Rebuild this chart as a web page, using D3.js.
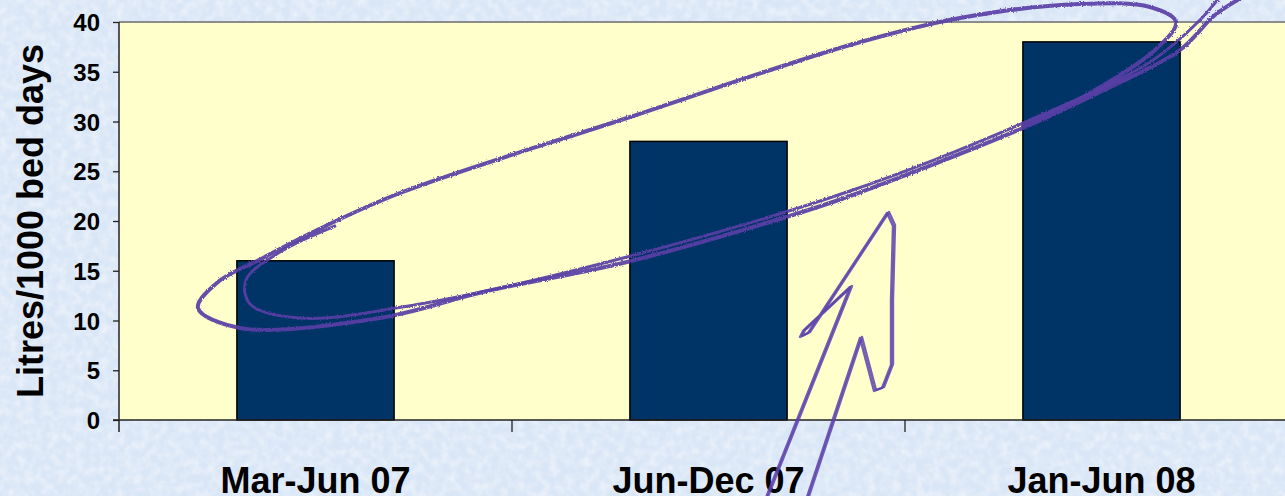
<!DOCTYPE html>
<html>
<head>
<meta charset="utf-8">
<script src="https://cdn.jsdelivr.net/npm/d3@7"></script>
<style>
  html, body { margin: 0; padding: 0; overflow: hidden; background: #dbe7f6; }
  svg { display: block; font-family: "Liberation Sans", Arial, sans-serif; }
</style>
</head>
<body>
<svg id="chart" width="1285" height="496"></svg>
<script>
// chart data
const categories = ["Mar-Jun 07", "Jun-Dec 07", "Jan-Jun 08"];
const litres = [16, 28, 38];
const yTicks = [0, 5, 10, 15, 20, 25, 30, 35, 40];
const yTitle = "Litres/1000 bed days";

// hand drawn annotation (screen space)
const loopMain = [[1248, -6], [1215, 15], [1180, 50], [1100, 92], [1023, 128], [850, 196], [783, 218],
  [627, 262], [483, 292], [380, 318], [240, 328], [198, 308], [218, 282], [263, 258], [313, 232],
  [400, 193], [627, 118], [850, 45], [960, 18], [1080, 4], [1150, 7], [1176, 22], [1155, 50],
  [1083, 97], [1023, 126]];
const loopInner = [[335, 226], [280, 252], [246, 280], [250, 304], [300, 318], [420, 304],
  [627, 257], [850, 191], [1023, 123], [1150, 62], [1200, 20], [1222, -6]];
const arrowPts = [[765, 500], [850, 287], [803, 331], [800, 337], [808, 333], [887, 213], [893, 226],
  [891, 300], [891, 365], [882, 388], [874, 391], [860, 338], [806, 500]];

const svg = d3.select("#chart");
const width = +svg.attr("width");
const height = +svg.attr("height");

const plot = { left: 119, top: 22, bottom: 420, step: 393 };
const plotRight = plot.left + plot.step * categories.length;

//background texture
const defs = svg.append("defs");
const tex = defs.append("filter").attr("id", "tex")
  .attr("x", 0).attr("y", 0).attr("width", "100%").attr("height", "100%");
tex.append("feTurbulence").attr("type", "fractalNoise")
  .attr("baseFrequency", 0.12).attr("numOctaves", 2).attr("seed", 3);
tex.append("feColorMatrix").attr("type", "matrix")
  .attr("values", "0 0 0 0 1  0 0 0 0 1  0 0 0 0 1  0 0 0 1.6 -0.55");

const rough = defs.append("filter").attr("id", "rough");
rough.append("feTurbulence").attr("type", "fractalNoise")
  .attr("baseFrequency", 0.8).attr("numOctaves", 1).attr("result", "n");
rough.append("feDisplacementMap").attr("in", "SourceGraphic").attr("in2", "n")
  .attr("scale", 3);

const soft = defs.append("filter").attr("id", "soft");
soft.append("feGaussianBlur").attr("stdDeviation", 0.6);

svg.append("rect").attr("width", width).attr("height", height).attr("fill", "#d9e6f6");
svg.append("rect").attr("width", width).attr("height", height)
  .attr("filter", "url(#tex)").attr("opacity", 0.55);

//scales
const x = d3.scaleBand().domain(categories)
  .range([plot.left, plotRight]).paddingInner(0.6).paddingOuter(0.3);
const xEdge = d3.scaleBand().domain(categories).range([plot.left, plotRight]);
const y = d3.scaleLinear().domain([0, 40]).range([plot.bottom, plot.top]);

//plot area
svg.append("rect")
  .attr("x", plot.left).attr("y", plot.top)
  .attr("width", plotRight - plot.left).attr("height", plot.bottom - plot.top)
  .attr("fill", "#ffffcc");
svg.append("line")
  .attr("x1", plot.left).attr("x2", plotRight)
  .attr("y1", plot.top).attr("y2", plot.top)
  .attr("stroke", "#8c8c8c").attr("stroke-width", 2);

//bars
svg.append("g").selectAll("rect")
  .data(litres)
  .enter()
  .append("rect")
  .attr("x", (d, i) => x(categories[i]))
  .attr("y", d => y(d))
  .attr("width", x.bandwidth())
  .attr("height", d => y(0) - y(d))
  .attr("fill", "#003366")
  .attr("stroke", "#000")
  .attr("stroke-width", 1.5);

//y axis
const yAxis = svg.append("g")
  .attr("transform", `translate(${plot.left},0)`)
  .call(d3.axisLeft(y).tickValues(yTicks).tickSize(6).tickPadding(13));
yAxis.select(".domain").remove();
yAxis.selectAll(".tick line").attr("stroke", "#222").attr("stroke-width", 1.3);
yAxis.selectAll(".tick text")
  .attr("font-size", 24).attr("font-weight", "bold").attr("fill", "#000")
  .attr("font-family", "Liberation Sans, Arial, sans-serif")
  .attr("dy", "0.36em");
svg.append("line")
  .attr("x1", plot.left).attr("x2", plot.left)
  .attr("y1", plot.top).attr("y2", plot.bottom + 12)
  .attr("stroke", "#222").attr("stroke-width", 1.5);

//x axis
svg.append("line")
  .attr("x1", plot.left - 6).attr("x2", plotRight)
  .attr("y1", plot.bottom).attr("y2", plot.bottom)
  .attr("stroke", "#222").attr("stroke-width", 1.5);
svg.append("g").selectAll("line")
  .data(categories.slice(1))
  .enter()
  .append("line")
  .attr("x1", d => xEdge(d)).attr("x2", d => xEdge(d))
  .attr("y1", plot.bottom).attr("y2", plot.bottom + 12)
  .attr("stroke", "#222").attr("stroke-width", 1.3);
svg.append("g").selectAll("text")
  .data(categories)
  .enter()
  .append("text")
  .attr("x", d => x(d) + x.bandwidth() / 2)
  .attr("y", 493)
  .attr("text-anchor", "middle")
  .attr("font-size", 36).attr("font-weight", "bold")
  .text(d => d);

//y title
svg.append("text")
  .attr("transform", `translate(43,${(plot.top + plot.bottom) / 2}) rotate(-90)`)
  .attr("text-anchor", "middle")
  .attr("font-size", 36).attr("font-weight", "bold")
  .text(yTitle);

//scribbles
const ink = svg.append("g").attr("fill", "none").attr("stroke-linecap", "round")
  .attr("stroke-linejoin", "round");
const smooth = d3.line().curve(d3.curveCatmullRom.alpha(0.5));
ink.selectAll("path.loop")
  .data([loopMain, loopInner])
  .enter()
  .append("path")
  .attr("class", "loop")
  .attr("d", d => smooth(d))
  .attr("stroke", "#5a3fa6")
  .attr("stroke-width", (d, i) => i === 0 ? 4 : 3)
  .attr("opacity", 0.92)
  .attr("filter", "url(#rough)");
// arrow drawn twice with a small offset, like a pen going over it again
ink.selectAll("path.arrow")
  .data([0, 2])
  .enter()
  .append("path")
  .attr("class", "arrow")
  .attr("d", d3.line())
  .attr("d", off => d3.line()(arrowPts.map(p => [p[0] + off, p[1] - off / 2])))
  .attr("stroke", "#5d42ad")
  .attr("stroke-width", 2.4)
  .attr("opacity", 0.85)
  .attr("filter", "url(#soft)");
</script>
</body>
</html>
